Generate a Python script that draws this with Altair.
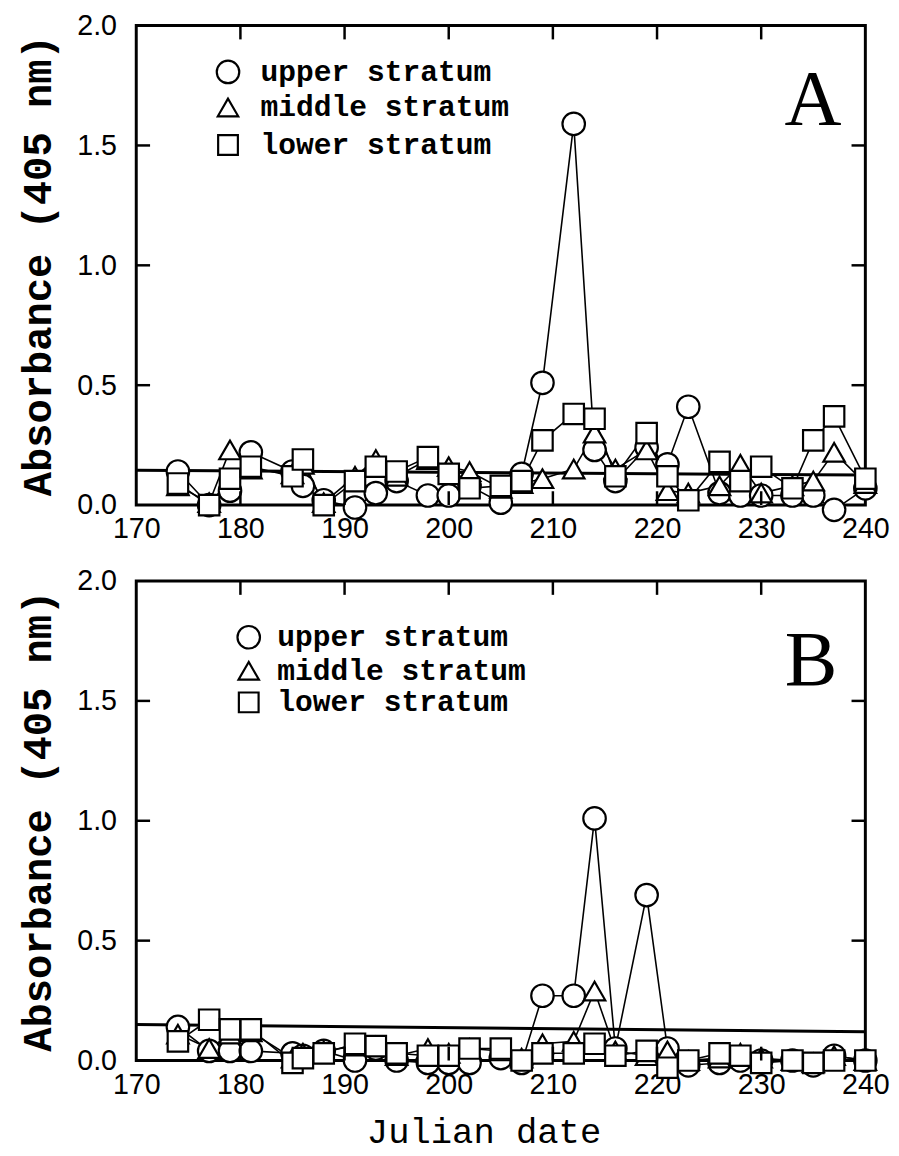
import altair as alt
import pandas as pd

# ---------------- data ----------------
dates = [174, 177, 179, 181, 185, 186, 188, 191, 193, 195, 198, 200, 202, 205, 207,
         209, 212, 214, 216, 219, 221, 223, 226, 228, 230, 233, 235, 237, 240]

A_upper = [0.14, 0.00, 0.06, 0.22, 0.14, 0.08, 0.02, -0.01, 0.05, 0.10, 0.04, 0.04, 0.08, 0.01, 0.13,
           0.51, 1.59, 0.23, 0.10, 0.24, 0.17, 0.41, 0.05, 0.04, 0.04, 0.04, 0.04, -0.02, 0.07]
A_middle = [0.08, 0.01, 0.23, 0.15, 0.13, 0.17, 0.01, 0.12, 0.19, 0.12, 0.19, 0.16, 0.14, 0.07, 0.09,
            0.11, 0.15, 0.30, 0.15, 0.23, 0.06, 0.05, 0.08, 0.17, 0.05, 0.08, 0.10, 0.22, 0.09]
A_lower = [0.09, 0.00, 0.11, 0.16, 0.12, 0.19, 0.00, 0.10, 0.16, 0.14, 0.20, 0.13, 0.07, 0.08, 0.10,
           0.27, 0.38, 0.36, 0.12, 0.30, 0.12, 0.02, 0.18, 0.10, 0.16, 0.07, 0.27, 0.37, 0.11]

B_upper = [0.14, 0.04, 0.04, 0.04, 0.03, 0.02, 0.04, 0.00, 0.05, 0.00, -0.01, -0.01, -0.01, 0.01, -0.01,
           0.27, 0.27, 1.01, 0.05, 0.69, 0.05, -0.02, -0.01, 0.00, 0.00, 0.00, -0.02, 0.02, 0.00]
B_middle = [0.11, 0.05, 0.11, 0.12, 0.01, 0.03, 0.04, 0.06, 0.06, 0.02, 0.05, 0.03, 0.05, 0.04, 0.01,
            0.07, 0.08, 0.29, 0.04, 0.02, 0.04, 0.00, 0.01, 0.03, 0.01, 0.00, -0.01, 0.02, 0.00]
B_lower = [0.08, 0.17, 0.13, 0.13, -0.01, 0.01, 0.03, 0.07, 0.06, 0.03, 0.02, 0.02, 0.05, 0.05, 0.00,
           0.03, 0.03, 0.07, 0.02, 0.04, -0.03, 0.00, 0.03, 0.02, -0.01, 0.00, -0.01, 0.00, 0.00]

thr_dates = [170, 240]
thr_A = [0.145, 0.125]
thr_B = [0.15, 0.12]

series = ["upper stratum", "middle stratum", "lower stratum"]
shapes = ["circle", "triangle-up", "square"]
sizes = [520, 430, 400]

x_labels = [170, 180, 190, 200, 210, 220, 230, 240]
y_labels = [0.0, 0.5, 1.0, 1.5, 2.0]
x_inner_ticks = [180, 190, 200, 210, 220, 230]
y_inner_ticks = [0.5, 1.0, 1.5]

# ---------------- styling ----------------
W, H = 739, 486
TICK = 14
LABEL_FONT = "Liberation Sans, Arial, sans-serif"
MONO = "Liberation Mono, Courier New, monospace"
SERIF = "Liberation Serif, Times New Roman, serif"

xs = alt.Scale(domain=[170, 240], nice=False, zero=False)
ys = alt.Scale(domain=[0, 2], nice=False, zero=False)


def panel(letter, up, mid, low, thr, leg_x, leg_ys, txt_x, letter_xy, xtitle):
    rows = []
    for name, vals in zip(series, [up, mid, low]):
        for d, v in zip(dates, vals):
            rows.append({"date": d, "value": v, "stratum": name})
    df = pd.DataFrame(rows)
    thr_df = pd.DataFrame({"date": thr_dates, "value": thr})

    xaxis_kw = dict(values=x_labels, format="d", ticks=False, domain=False, grid=False,
                    labelFlush=False, labelFont=LABEL_FONT, labelFontSize=29, labelPadding=10,
                    labelColor="black")
    if xtitle:
        xaxis_kw.update(title=xtitle, titleFont=MONO, titleFontSize=36, titleFontWeight="normal",
                        titlePadding=16, titleColor="black", titleX=352)
    else:
        xaxis_kw.update(title="")
    X = alt.X("date:Q", scale=xs, axis=alt.Axis(**xaxis_kw))
    Y = alt.Y("value:Q", scale=ys, axis=alt.Axis(
        values=y_labels, format=".1f", ticks=False, domain=False, grid=False, labelFlush=False,
        labelFont=LABEL_FONT, labelFontSize=29, labelPadding=20, labelColor="black",
        title="Absorbance (405 nm)", titleFont=MONO, titleFontSize=41, titleFontWeight="bold",
        titlePadding=18, titleColor="black"))

    thr_line = alt.Chart(thr_df).mark_line(color="black", strokeWidth=3).encode(x=X, y=Y)
    lines = alt.Chart(df).mark_line(color="black", strokeWidth=1.6).encode(
        x=X, y=Y, detail="stratum:N")
    pts = alt.Chart(df).mark_point(filled=True, fill="white", stroke="black", strokeWidth=2.2,
                                   opacity=1).encode(
        x=X, y=Y,
        shape=alt.Shape("stratum:N", scale=alt.Scale(domain=series, range=shapes), legend=None),
        size=alt.Size("stratum:N", scale=alt.Scale(domain=series, range=sizes), legend=None),
    )

    # inward frame ticks (same fields / axes as the data layers so axes merge cleanly)
    ty = pd.DataFrame({"value": y_inner_ticks})
    tx = pd.DataFrame({"date": x_inner_ticks})
    rk = dict(color="black", strokeWidth=2.5)
    left_t = alt.Chart(ty).mark_rule(**rk).encode(y=Y, x=alt.value(0), x2=alt.value(TICK))
    right_t = alt.Chart(ty).mark_rule(**rk).encode(y=Y, x=alt.value(W - TICK), x2=alt.value(W))
    top_t = alt.Chart(tx).mark_rule(**rk).encode(x=X, y=alt.value(0), y2=alt.value(TICK))
    bot_t = alt.Chart(tx).mark_rule(**rk).encode(x=X, y=alt.value(H - TICK), y2=alt.value(H))

    # legend inside the plot
    leg = []
    for i, name in enumerate(series):
        leg.append(alt.Chart(pd.DataFrame({"s": [name]})).mark_point(
            filled=True, fill="white", stroke="black", strokeWidth=2.2, opacity=1,
            shape=shapes[i], size=sizes[i]).encode(
            x=alt.value(leg_x), y=alt.value(leg_ys[i])))
        leg.append(alt.Chart(pd.DataFrame({"s": [name]})).mark_text(
            align="left", baseline="middle", font=MONO, fontSize=30, fontWeight="bold",
            color="black").encode(text="s:N", x=alt.value(txt_x), y=alt.value(leg_ys[i])))

    let = alt.Chart(pd.DataFrame({"s": [letter]})).mark_text(
        align="center", baseline="middle", font=SERIF, fontSize=80, color="black").encode(
        text="s:N", x=alt.value(letter_xy[0]), y=alt.value(letter_xy[1]))

    return alt.layer(thr_line, lines, pts, left_t, right_t, top_t, bot_t, *leg, let).properties(
        width=W, height=H)


pA = panel("A", A_upper, A_middle, A_lower, thr_A, 93, [47, 83, 121], 126, (686, 76), None)
pB = panel("B", B_upper, B_middle, B_lower, thr_B, 114, [57, 91, 123], 143, (684, 81), "Julian date")

chart = alt.vconcat(pA, pB, spacing=20).properties(
    padding={"left": 8, "top": -6, "right": 0, "bottom": 0},
    background="white",
).configure_view(stroke="black", strokeWidth=3)

chart.save("out.html", embed_options={"renderer": "svg", "actions": False})
